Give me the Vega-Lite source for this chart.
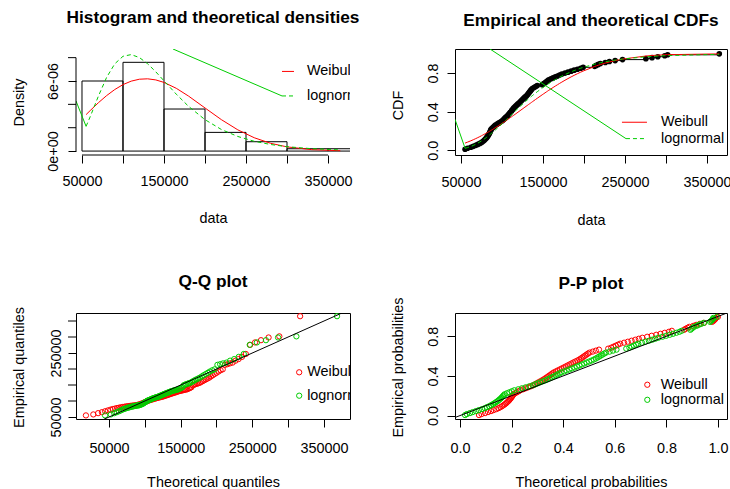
{
"$schema": "https://vega.github.io/schema/vega-lite/v6.json",
"autosize": {"type": "pad"},
"padding": {"left": 10, "top": 8, "right": 0, "bottom": 0},
"background": "white",
"config": {
  "font": "Liberation Sans",
  "view": {"stroke": null},
  "axis": {"grid": false, "domain": false, "tickColor": "black", "tickSize": 8, "tickWidth": 1, "labelColor": "black", "titleColor": "black", "labelFontSize": 14.4, "titleFontSize": 14.4, "titleFontWeight": "normal", "labelFont": "Liberation Sans", "titleFont": "Liberation Sans", "labelFlush": false, "labelOverlap": false, "labelBound": false},
  "title": {"fontSize": 17.3, "font": "Liberation Sans", "fontWeight": "bold", "color": "black", "anchor": "middle", "frame": "group"}
},
"datasets": {
  "s": [
    {"i":1,"v":55000,"e":0.01,"p":0.005,"qw":17800,"ql":44500,"fw":0.0737,"fl":0.0197},
    {"i":2,"v":58000,"e":0.02,"p":0.015,"qw":28100,"ql":52600,"fw":0.0835,"fl":0.0268},
    {"i":3,"v":62000,"e":0.03,"p":0.025,"qw":34800,"ql":57300,"fw":0.0973,"fl":0.0385},
    {"i":4,"v":65000,"e":0.04,"p":0.035,"qw":40100,"ql":60900,"fw":0.1085,"fl":0.0492},
    {"i":5,"v":68000,"e":0.05,"p":0.045,"qw":44600,"ql":63900,"fw":0.1201,"fl":0.0614},
    {"i":6,"v":70500,"e":0.06,"p":0.055,"qw":48500,"ql":66500,"fw":0.1304,"fl":0.0729},
    {"i":7,"v":73000,"e":0.07,"p":0.065,"qw":52100,"ql":68800,"fw":0.1410,"fl":0.0854},
    {"i":8,"v":75000,"e":0.08,"p":0.075,"qw":55400,"ql":70900,"fw":0.1498,"fl":0.0961},
    {"i":9,"v":76500,"e":0.09,"p":0.085,"qw":58500,"ql":72900,"fw":0.1566,"fl":0.1046},
    {"i":10,"v":78000,"e":0.10,"p":0.095,"qw":61400,"ql":74800,"fw":0.1634,"fl":0.1135},
    {"i":11,"v":79200,"e":0.11,"p":0.105,"qw":64100,"ql":76600,"fw":0.1691,"fl":0.1208},
    {"i":12,"v":80300,"e":0.12,"p":0.115,"qw":66700,"ql":78300,"fw":0.1742,"fl":0.1277},
    {"i":13,"v":81300,"e":0.13,"p":0.125,"qw":69200,"ql":79900,"fw":0.1791,"fl":0.1341},
    {"i":14,"v":82100,"e":0.14,"p":0.135,"qw":71600,"ql":81400,"fw":0.1829,"fl":0.1394},
    {"i":15,"v":83000,"e":0.15,"p":0.145,"qw":73900,"ql":83000,"fw":0.1873,"fl":0.1454},
    {"i":16,"v":83700,"e":0.16,"p":0.155,"qw":76200,"ql":84400,"fw":0.1908,"fl":0.1501},
    {"i":17,"v":84300,"e":0.17,"p":0.165,"qw":78300,"ql":85900,"fw":0.1937,"fl":0.1542},
    {"i":18,"v":85000,"e":0.18,"p":0.175,"qw":80500,"ql":87200,"fw":0.1972,"fl":0.1590},
    {"i":19,"v":85500,"e":0.19,"p":0.185,"qw":82500,"ql":88600,"fw":0.1997,"fl":0.1625},
    {"i":20,"v":86000,"e":0.20,"p":0.195,"qw":84600,"ql":90000,"fw":0.2023,"fl":0.1660},
    {"i":21,"v":86500,"e":0.21,"p":0.205,"qw":86500,"ql":91300,"fw":0.2048,"fl":0.1696},
    {"i":22,"v":87000,"e":0.22,"p":0.215,"qw":88500,"ql":92600,"fw":0.2074,"fl":0.1731},
    {"i":23,"v":88200,"e":0.23,"p":0.225,"qw":90400,"ql":93900,"fw":0.2136,"fl":0.1818},
    {"i":24,"v":89500,"e":0.24,"p":0.235,"qw":92300,"ql":95200,"fw":0.2205,"fl":0.1914},
    {"i":25,"v":90800,"e":0.25,"p":0.245,"qw":94100,"ql":96500,"fw":0.2273,"fl":0.2011},
    {"i":26,"v":92000,"e":0.26,"p":0.255,"qw":95900,"ql":97700,"fw":0.2337,"fl":0.2103},
    {"i":27,"v":94000,"e":0.27,"p":0.265,"qw":97700,"ql":98900,"fw":0.2444,"fl":0.2257},
    {"i":28,"v":95800,"e":0.28,"p":0.275,"qw":99500,"ql":100200,"fw":0.2543,"fl":0.2399},
    {"i":29,"v":97600,"e":0.29,"p":0.285,"qw":101300,"ql":101400,"fw":0.2644,"fl":0.2542},
    {"i":30,"v":99400,"e":0.30,"p":0.295,"qw":103000,"ql":102600,"fw":0.2745,"fl":0.2687},
    {"i":31,"v":101000,"e":0.31,"p":0.305,"qw":104700,"ql":103800,"fw":0.2836,"fl":0.2817},
    {"i":32,"v":102200,"e":0.32,"p":0.315,"qw":106400,"ql":105000,"fw":0.2905,"fl":0.2915},
    {"i":33,"v":103300,"e":0.33,"p":0.325,"qw":108100,"ql":106300,"fw":0.2969,"fl":0.3006},
    {"i":34,"v":104500,"e":0.34,"p":0.335,"qw":109800,"ql":107500,"fw":0.3039,"fl":0.3104},
    {"i":35,"v":105700,"e":0.35,"p":0.345,"qw":111400,"ql":108700,"fw":0.3109,"fl":0.3203},
    {"i":36,"v":106900,"e":0.36,"p":0.355,"qw":113100,"ql":109900,"fw":0.3180,"fl":0.3302},
    {"i":37,"v":108000,"e":0.37,"p":0.365,"qw":114800,"ql":111100,"fw":0.3245,"fl":0.3393},
    {"i":38,"v":109000,"e":0.38,"p":0.375,"qw":116400,"ql":112300,"fw":0.3304,"fl":0.3476},
    {"i":39,"v":110000,"e":0.39,"p":0.385,"qw":118000,"ql":113600,"fw":0.3363,"fl":0.3558},
    {"i":40,"v":110900,"e":0.40,"p":0.395,"qw":119700,"ql":114800,"fw":0.3418,"fl":0.3633},
    {"i":41,"v":111800,"e":0.41,"p":0.405,"qw":121300,"ql":116000,"fw":0.3472,"fl":0.3707},
    {"i":42,"v":112700,"e":0.42,"p":0.415,"qw":122900,"ql":117200,"fw":0.3527,"fl":0.3781},
    {"i":43,"v":113600,"e":0.43,"p":0.425,"qw":124500,"ql":118500,"fw":0.3581,"fl":0.3855},
    {"i":44,"v":114500,"e":0.44,"p":0.435,"qw":126100,"ql":119700,"fw":0.3635,"fl":0.3928},
    {"i":45,"v":115800,"e":0.45,"p":0.445,"qw":127700,"ql":121000,"fw":0.3714,"fl":0.4035},
    {"i":46,"v":117000,"e":0.46,"p":0.455,"qw":129400,"ql":122200,"fw":0.3787,"fl":0.4133},
    {"i":47,"v":118300,"e":0.47,"p":0.465,"qw":131000,"ql":123500,"fw":0.3868,"fl":0.4238},
    {"i":48,"v":119500,"e":0.48,"p":0.475,"qw":132600,"ql":124700,"fw":0.3941,"fl":0.4335},
    {"i":49,"v":120800,"e":0.49,"p":0.485,"qw":134200,"ql":126000,"fw":0.4021,"fl":0.4439},
    {"i":50,"v":122000,"e":0.50,"p":0.495,"qw":135800,"ql":127300,"fw":0.4096,"fl":0.4534},
    {"i":51,"v":123200,"e":0.51,"p":0.505,"qw":137500,"ql":128700,"fw":0.4169,"fl":0.4628},
    {"i":52,"v":124400,"e":0.52,"p":0.515,"qw":139100,"ql":130000,"fw":0.4243,"fl":0.4722},
    {"i":53,"v":125600,"e":0.53,"p":0.525,"qw":140700,"ql":131400,"fw":0.4317,"fl":0.4815},
    {"i":54,"v":126800,"e":0.54,"p":0.535,"qw":142400,"ql":132700,"fw":0.4392,"fl":0.4907},
    {"i":55,"v":128000,"e":0.55,"p":0.545,"qw":144100,"ql":134100,"fw":0.4467,"fl":0.5004},
    {"i":56,"v":129300,"e":0.56,"p":0.555,"qw":145700,"ql":135400,"fw":0.4547,"fl":0.5099},
    {"i":57,"v":130500,"e":0.57,"p":0.565,"qw":147400,"ql":136900,"fw":0.4621,"fl":0.5188},
    {"i":58,"v":131500,"e":0.58,"p":0.575,"qw":149100,"ql":138300,"fw":0.4682,"fl":0.5262},
    {"i":59,"v":132400,"e":0.59,"p":0.585,"qw":150800,"ql":139800,"fw":0.4739,"fl":0.5329},
    {"i":60,"v":133300,"e":0.60,"p":0.595,"qw":152500,"ql":141200,"fw":0.4794,"fl":0.5394},
    {"i":61,"v":134200,"e":0.61,"p":0.605,"qw":154200,"ql":142700,"fw":0.4849,"fl":0.5459},
    {"i":62,"v":135100,"e":0.62,"p":0.615,"qw":156000,"ql":144200,"fw":0.4904,"fl":0.5524},
    {"i":63,"v":136000,"e":0.63,"p":0.625,"qw":157700,"ql":145900,"fw":0.4960,"fl":0.5588},
    {"i":64,"v":137000,"e":0.64,"p":0.635,"qw":159500,"ql":147500,"fw":0.5021,"fl":0.5658},
    {"i":65,"v":139000,"e":0.65,"p":0.645,"qw":161300,"ql":149100,"fw":0.5144,"fl":0.5797},
    {"i":66,"v":141000,"e":0.66,"p":0.655,"qw":163200,"ql":150700,"fw":0.5265,"fl":0.5932},
    {"i":67,"v":143000,"e":0.67,"p":0.665,"qw":165000,"ql":152400,"fw":0.5387,"fl":0.6065},
    {"i":68,"v":149000,"e":0.68,"p":0.675,"qw":166900,"ql":154100,"fw":0.5745,"fl":0.6445},
    {"i":69,"v":151000,"e":0.69,"p":0.685,"qw":168800,"ql":156000,"fw":0.5863,"fl":0.6566},
    {"i":70,"v":152500,"e":0.70,"p":0.695,"qw":170700,"ql":157800,"fw":0.5950,"fl":0.6654},
    {"i":71,"v":154000,"e":0.71,"p":0.705,"qw":172700,"ql":159700,"fw":0.6037,"fl":0.6740},
    {"i":72,"v":155500,"e":0.72,"p":0.715,"qw":174700,"ql":161600,"fw":0.6123,"fl":0.6825},
    {"i":73,"v":157000,"e":0.73,"p":0.725,"qw":176700,"ql":163500,"fw":0.6208,"fl":0.6908},
    {"i":74,"v":159700,"e":0.74,"p":0.735,"qw":178800,"ql":165700,"fw":0.6360,"fl":0.7053},
    {"i":75,"v":162300,"e":0.75,"p":0.745,"qw":180900,"ql":167700,"fw":0.6504,"fl":0.7188},
    {"i":76,"v":165000,"e":0.76,"p":0.755,"qw":183100,"ql":169800,"fw":0.6651,"fl":0.7322},
    {"i":77,"v":167700,"e":0.77,"p":0.765,"qw":185300,"ql":172100,"fw":0.6794,"fl":0.7451},
    {"i":78,"v":170300,"e":0.78,"p":0.775,"qw":187600,"ql":174500,"fw":0.6930,"fl":0.7569},
    {"i":79,"v":173000,"e":0.79,"p":0.785,"qw":189900,"ql":176900,"fw":0.7067,"fl":0.7688},
    {"i":80,"v":176800,"e":0.80,"p":0.795,"qw":192300,"ql":179500,"fw":0.7255,"fl":0.7846},
    {"i":81,"v":180500,"e":0.81,"p":0.805,"qw":194800,"ql":182000,"fw":0.7431,"fl":0.7991},
    {"i":82,"v":184300,"e":0.82,"p":0.815,"qw":197400,"ql":184900,"fw":0.7606,"fl":0.8130},
    {"i":83,"v":188000,"e":0.83,"p":0.825,"qw":200000,"ql":187900,"fw":0.7769,"fl":0.8258},
    {"i":84,"v":192000,"e":0.84,"p":0.835,"qw":202800,"ql":190700,"fw":0.7937,"fl":0.8386},
    {"i":85,"v":196000,"e":0.85,"p":0.845,"qw":205700,"ql":194100,"fw":0.8097,"fl":0.8506},
    {"i":86,"v":199000,"e":0.86,"p":0.855,"qw":208700,"ql":197400,"fw":0.8211,"fl":0.8591},
    {"i":87,"v":213000,"e":0.87,"p":0.865,"qw":211800,"ql":201300,"fw":0.8685,"fl":0.8929},
    {"i":88,"v":215000,"e":0.88,"p":0.875,"qw":215200,"ql":205100,"fw":0.8745,"fl":0.8970},
    {"i":89,"v":217500,"e":0.89,"p":0.885,"qw":218700,"ql":209200,"fw":0.8817,"fl":0.9020},
    {"i":90,"v":220000,"e":0.90,"p":0.895,"qw":222500,"ql":213900,"fw":0.8886,"fl":0.9068},
    {"i":91,"v":226000,"e":0.91,"p":0.905,"qw":226500,"ql":219000,"fw":0.9039,"fl":0.9172},
    {"i":92,"v":231000,"e":0.92,"p":0.915,"qw":230800,"ql":224700,"fw":0.9154,"fl":0.9251},
    {"i":93,"v":238000,"e":0.93,"p":0.925,"qw":235600,"ql":231100,"fw":0.9297,"fl":0.9348},
    {"i":94,"v":247000,"e":0.94,"p":0.935,"qw":240900,"ql":238100,"fw":0.9452,"fl":0.9456},
    {"i":95,"v":275500,"e":0.95,"p":0.945,"qw":246900,"ql":246400,"fw":0.9772,"fl":0.9692},
    {"i":96,"v":283000,"e":0.96,"p":0.955,"qw":253800,"ql":256400,"fw":0.9823,"fl":0.9735},
    {"i":97,"v":290000,"e":0.97,"p":0.965,"qw":262100,"ql":269000,"fw":0.9862,"fl":0.9770},
    {"i":98,"v":298500,"e":0.98,"p":0.975,"qw":272700,"ql":285900,"fw":0.9899,"fl":0.9805},
    {"i":99,"v":302000,"e":0.99,"p":0.985,"qw":287700,"ql":311500,"fw":0.9911,"fl":0.9819},
    {"i":100,"v":365000,"e":1.00,"p":0.995,"qw":316700,"ql":368200,"fw":0.9994,"fl":0.9947}
  ],
  "bins": [
    {"x0":50000,"x1":100000,"d":6.0e-6},
    {"x0":100000,"x1":150000,"d":7.6e-6},
    {"x0":150000,"x1":200000,"d":3.6e-6},
    {"x0":200000,"x1":250000,"d":1.6e-6},
    {"x0":250000,"x1":300000,"d":0.8e-6},
    {"x0":300000,"x1":350000,"d":0.2e-6},
    {"x0":350000,"x1":400000,"d":0.2e-6}
  ],
  "dens": [
    {"x":55000,"w":3.122e-6,"l":2.118e-6},
    {"x":60000,"w":3.470e-6,"l":2.940e-6},
    {"x":70000,"w":4.138e-6,"l":4.704e-6},
    {"x":80000,"w":4.747e-6,"l":6.305e-6},
    {"x":90000,"w":5.270e-6,"l":7.475e-6},
    {"x":100000,"w":5.690e-6,"l":8.117e-6},
    {"x":110000,"w":5.987e-6,"l":8.261e-6},
    {"x":120000,"w":6.153e-6,"l":8.008e-6},
    {"x":130000,"w":6.187e-6,"l":7.478e-6},
    {"x":140000,"w":6.093e-6,"l":6.786e-6},
    {"x":150000,"w":5.879e-6,"l":6.018e-6},
    {"x":165000,"w":5.373e-6,"l":4.869e-6},
    {"x":180000,"w":4.706e-6,"l":3.827e-6},
    {"x":200000,"w":3.691e-6,"l":2.690e-6},
    {"x":220000,"w":2.689e-6,"l":1.847e-6},
    {"x":240000,"w":1.819e-6,"l":1.250e-6},
    {"x":260000,"w":1.143e-6,"l":0.839e-6},
    {"x":280000,"w":0.666e-6,"l":0.563e-6},
    {"x":300000,"w":0.359e-6,"l":0.375e-6},
    {"x":330000,"w":0.123e-6,"l":0.205e-6},
    {"x":365000,"w":0.028e-6,"l":0.102e-6}
  ]
},
"columns": 2,
"spacing": {"row": 158, "column": 105},
"bounds": "flush",
"concat": [
  {
    "width": 274, "height": 106,
    "title": {"text": "Histogram and theoretical densities", "offset": 23},
    "layer": [
      {"data": {"name": "bins"},
       "mark": {"type": "rect", "filled": false, "color": "black", "strokeWidth": 1, "clip": true},
       "encoding": {
         "x": {"field": "x0", "type": "quantitative", "scale": {"domain": [42700, 376800], "nice": false, "zero": false},
               "axis": {"title": "data", "values": [50000,100000,150000,200000,250000,300000,350000], "labelExpr": "datum.value % 100000 == 50000 ? '' + datum.value : ''", "labelOverlap": false, "labelPadding": 11, "titleX": 137, "titleY": 63, "titleBaseline": "middle", "titleAlign": "center"}},
         "x2": {"field": "x1"},
         "y": {"field": "d", "type": "quantitative", "scale": {"domain": [-3.36e-7, 8.74e-6], "nice": false, "zero": false},
               "axis": {"title": "Density", "values": [0, 6e-6], "labelExpr": "datum.value < 0.000001 ? '0e+00' : '6e-06'", "labelOverlap": false, "labelAngle": 270, "labelAlign": "center", "labelBaseline": "bottom", "labelPadding": 8, "titleX": -57, "titleY": 53, "titleAngle": 270, "titleBaseline": "middle", "titleAlign": "center"}},
         "y2": {"datum": 0}
       }},
      {"data": {"values": [{"t": 2e-6}, {"t": 4e-6}, {"t": 8e-6}]},
       "mark": {"type": "rule", "color": "black", "strokeWidth": 1, "x2Offset": -8},
       "encoding": {"y": {"field": "t", "type": "quantitative"}, "x": {"datum": 42700}, "x2": {"datum": 42700}}},
      {"data": {"name": "dens"},
       "mark": {"type": "line", "color": "#FF0000", "strokeWidth": 1, "clip": true},
       "encoding": {"x": {"field": "x", "type": "quantitative"}, "y": {"field": "w", "type": "quantitative"}}},
      {"data": {"name": "dens"},
       "mark": {"type": "line", "color": "#00CD00", "strokeWidth": 1, "strokeDash": [4, 3], "clip": true},
       "encoding": {"x": {"field": "x", "type": "quantitative"}, "y": {"field": "l", "type": "quantitative"}}},
      {"data": {"values": [{"g": "A", "x": 42700, "y": 4.29e-6}, {"g": "A", "x": 55000, "y": 2.118e-6}, {"g": "B", "x": 161000, "y": 8.74e-6}, {"g": "B", "x": 293900, "y": 4.72e-6}]},
       "mark": {"type": "line", "color": "#00CD00", "strokeWidth": 1, "clip": true},
       "encoding": {"x": {"field": "x", "type": "quantitative"}, "y": {"field": "y", "type": "quantitative"}, "detail": {"field": "g"}}},
      {"data": {"values": [{"xa": 293900, "xb": 308500, "ly": 6.82e-6}]},
       "mark": {"type": "rule", "stroke": "#FF0000", "strokeWidth": 1, "clip": true},
       "encoding": {"x": {"field": "xa", "type": "quantitative"}, "x2": {"field": "xb"}, "y": {"field": "ly", "type": "quantitative"}}},
      {"data": {"values": [{"xa": 293900, "xb": 308500, "ly": 4.72e-6}]},
       "mark": {"type": "rule", "stroke": "#00CD00", "strokeWidth": 1, "strokeDash": [4, 3], "clip": true},
       "encoding": {"x": {"field": "xa", "type": "quantitative"}, "x2": {"field": "xb"}, "y": {"field": "ly", "type": "quantitative"}}},
      {"data": {"values": [{"x": 324400, "y": 6.82e-6, "t": "Weibull"}, {"x": 324400, "y": 4.72e-6, "t": "lognormal"}]},
       "mark": {"type": "text", "align": "left", "baseline": "middle", "fontSize": 14.4, "color": "black", "clip": true},
       "encoding": {"x": {"field": "x", "type": "quantitative"}, "y": {"field": "y", "type": "quantitative"}, "text": {"field": "t"}}},
      {"data": {"values": [{"a": 50000, "b": 350000, "c": -3.36e-7}]},
       "mark": {"type": "rule", "color": "black", "strokeWidth": 1},
       "encoding": {"x": {"field": "a", "type": "quantitative"}, "x2": {"field": "b"}, "y": {"field": "c", "type": "quantitative"}}},
      {"data": {"values": [{"a": 0, "b": 8e-6, "c": 42700}]},
       "mark": {"type": "rule", "color": "black", "strokeWidth": 1},
       "encoding": {"y": {"field": "a", "type": "quantitative"}, "y2": {"field": "b"}, "x": {"field": "c", "type": "quantitative"}}}
    ]
  },
  {
    "width": 272, "height": 106,
    "view": {"stroke": "black", "strokeWidth": 1},
    "title": {"text": "Empirical and theoretical CDFs", "offset": 20},
    "layer": [
      {"data": {"name": "s"},
       "mark": {"type": "line", "interpolate": "step-after", "color": "black", "strokeWidth": 1, "clip": true},
       "encoding": {
         "x": {"field": "v", "type": "quantitative", "scale": {"domain": [42700, 374400], "nice": false, "zero": false},
               "axis": {"title": "data", "values": [50000,100000,150000,200000,250000,300000,350000], "labelExpr": "datum.value % 100000 == 50000 ? '' + datum.value : ''", "labelOverlap": false, "labelPadding": 12, "titleX": 136, "titleY": 65, "titleBaseline": "middle", "titleAlign": "center"}},
         "y": {"field": "e", "type": "quantitative", "scale": {"domain": [-0.05, 1.05], "nice": false, "zero": false},
               "axis": {"title": "CDF", "values": [0, 0.2, 0.4, 0.6, 0.8, 1], "labelExpr": "round(datum.value*10) % 4 == 0 ? format(datum.value, '.1f') : ''", "labelOverlap": false, "labelAngle": 270, "labelAlign": "center", "labelBaseline": "bottom", "labelPadding": 7, "titleX": -57, "titleY": 56, "titleAngle": 270, "titleBaseline": "middle", "titleAlign": "center"}}
       }},
      {"data": {"name": "s"},
       "mark": {"type": "circle", "color": "black", "size": 32, "opacity": 1, "clip": true},
       "encoding": {"x": {"field": "v", "type": "quantitative"}, "y": {"field": "e", "type": "quantitative"}}},
      {"data": {"name": "s"},
       "mark": {"type": "line", "color": "#FF0000", "strokeWidth": 1, "clip": true},
       "encoding": {"x": {"field": "v", "type": "quantitative"}, "y": {"field": "fw", "type": "quantitative"}}},
      {"data": {"name": "s"},
       "mark": {"type": "line", "color": "#00CD00", "strokeWidth": 1, "strokeDash": [4, 3], "clip": true},
       "encoding": {"x": {"field": "v", "type": "quantitative"}, "y": {"field": "fl", "type": "quantitative"}}},
      {"data": {"values": [{"g": "A", "x": 42700, "y": 0.32}, {"g": "A", "x": 55000, "y": 0.0197}, {"g": "B", "x": 85400, "y": 1.05}, {"g": "B", "x": 251200, "y": 0.12}]},
       "mark": {"type": "line", "color": "#00CD00", "strokeWidth": 1, "clip": true},
       "encoding": {"x": {"field": "x", "type": "quantitative"}, "y": {"field": "y", "type": "quantitative"}, "detail": {"field": "g"}}},
      {"data": {"values": [{"xa": 246300, "xb": 276800, "ly": 0.29}]},
       "mark": {"type": "rule", "stroke": "#FF0000", "strokeWidth": 1, "clip": true},
       "encoding": {"x": {"field": "xa", "type": "quantitative"}, "x2": {"field": "xb"}, "y": {"field": "ly", "type": "quantitative"}}},
      {"data": {"values": [{"xa": 251200, "xb": 276800, "ly": 0.12}]},
       "mark": {"type": "rule", "stroke": "#00CD00", "strokeWidth": 1, "strokeDash": [4, 3], "clip": true},
       "encoding": {"x": {"field": "xa", "type": "quantitative"}, "x2": {"field": "xb"}, "y": {"field": "ly", "type": "quantitative"}}},
      {"data": {"values": [{"x": 293900, "y": 0.29, "t": "Weibull"}, {"x": 293900, "y": 0.12, "t": "lognormal"}]},
       "mark": {"type": "text", "align": "left", "baseline": "middle", "fontSize": 14.4, "color": "black", "clip": true},
       "encoding": {"x": {"field": "x", "type": "quantitative"}, "y": {"field": "y", "type": "quantitative"}, "text": {"field": "t"}}}
    ]
  },
  {
    "width": 274, "height": 106,
    "view": {"stroke": "black", "strokeWidth": 1},
    "title": {"text": "Q-Q plot", "offset": 16},
    "layer": [
      {"data": {"name": "s"},
       "mark": {"type": "point", "shape": "circle", "filled": false, "color": "#FF0000", "size": 28, "strokeWidth": 1, "opacity": 1, "clip": true},
       "encoding": {
         "x": {"field": "qw", "type": "quantitative", "scale": {"domain": [3950, 386300], "nice": false, "zero": false},
               "axis": {"title": "Theoretical quantiles", "values": [50000,100000,150000,200000,250000,300000,350000], "labelExpr": "datum.value % 100000 == 50000 ? '' + datum.value : ''", "labelOverlap": false, "labelPadding": 14, "titleX": 137, "titleY": 63, "titleBaseline": "middle", "titleAlign": "center"}},
         "y": {"field": "v", "type": "quantitative", "scale": {"domain": [43750, 375000], "nice": false, "zero": false},
               "axis": {"title": "Empirical quantiles", "values": [50000, 250000], "labelExpr": "'' + datum.value", "labelOverlap": false, "labelAngle": 270, "labelAlign": "center", "labelBaseline": "bottom", "labelPadding": 5, "titleX": -57, "titleY": 54, "titleAngle": 270, "titleBaseline": "middle", "titleAlign": "center"}}
       }},
      {"data": {"values": [{"t": 100000}, {"t": 150000}, {"t": 200000}, {"t": 300000}, {"t": 350000}]},
       "mark": {"type": "rule", "color": "black", "strokeWidth": 1, "x2Offset": -8},
       "encoding": {"y": {"field": "t", "type": "quantitative"}, "x": {"datum": 3950}, "x2": {"datum": 3950}}},
      {"data": {"name": "s"},
       "mark": {"type": "point", "shape": "circle", "filled": false, "color": "#00CD00", "size": 28, "strokeWidth": 1, "opacity": 1, "clip": true},
       "encoding": {"x": {"field": "ql", "type": "quantitative"}, "y": {"field": "v", "type": "quantitative"}}},
      {"data": {"values": [{"a": 0}, {"a": 400000}]},
       "mark": {"type": "line", "color": "black", "strokeWidth": 1, "clip": true},
       "encoding": {"x": {"field": "a", "type": "quantitative"}, "y": {"field": "a", "type": "quantitative"}}},
      {"data": {"values": [{"x": 315400, "y": 189700}]},
       "mark": {"type": "point", "shape": "circle", "filled": false, "color": "#FF0000", "size": 28, "strokeWidth": 1, "opacity": 1, "clip": true},
       "encoding": {"x": {"field": "x", "type": "quantitative"}, "y": {"field": "y", "type": "quantitative"}}},
      {"data": {"values": [{"x": 315400, "y": 116600}]},
       "mark": {"type": "point", "shape": "circle", "filled": false, "color": "#00CD00", "size": 28, "strokeWidth": 1, "opacity": 1, "clip": true},
       "encoding": {"x": {"field": "x", "type": "quantitative"}, "y": {"field": "y", "type": "quantitative"}}},
      {"data": {"values": [{"x": 326500, "y": 189700, "t": "Weibull"}, {"x": 326500, "y": 116600, "t": "lognormal"}]},
       "mark": {"type": "text", "align": "left", "baseline": "middle", "fontSize": 14.4, "color": "black", "clip": true},
       "encoding": {"x": {"field": "x", "type": "quantitative"}, "y": {"field": "y", "type": "quantitative"}, "text": {"field": "t"}}}
    ]
  },
  {
    "width": 272, "height": 106,
    "view": {"stroke": "black", "strokeWidth": 1},
    "title": {"text": "P-P plot", "offset": 5},
    "layer": [
      {"data": {"name": "s"},
       "mark": {"type": "point", "shape": "circle", "filled": false, "color": "#FF0000", "size": 28, "strokeWidth": 1, "opacity": 1, "clip": true},
       "encoding": {
         "x": {"field": "fw", "type": "quantitative", "scale": {"domain": [-0.0194, 1.0349], "nice": false, "zero": false},
               "axis": {"title": "Theoretical probabilities", "values": [0, 0.2, 0.4, 0.6, 0.8, 1], "format": ".1f", "labelOverlap": false, "labelPadding": 14, "titleX": 136, "titleY": 63, "titleBaseline": "middle", "titleAlign": "center"}},
         "y": {"field": "p", "type": "quantitative", "scale": {"domain": [-0.0346, 1.0346], "nice": false, "zero": false},
               "axis": {"title": "Empirical probabilities", "values": [0, 0.2, 0.4, 0.6, 0.8, 1], "labelExpr": "round(datum.value*10) % 4 == 0 ? format(datum.value, '.1f') : ''", "labelOverlap": false, "labelAngle": 270, "labelAlign": "center", "labelBaseline": "bottom", "labelPadding": 7, "titleX": -57, "titleY": 54, "titleAngle": 270, "titleBaseline": "middle", "titleAlign": "center"}}
       }},
      {"data": {"name": "s"},
       "mark": {"type": "point", "shape": "circle", "filled": false, "color": "#00CD00", "size": 28, "strokeWidth": 1, "opacity": 1, "clip": true},
       "encoding": {"x": {"field": "fl", "type": "quantitative"}, "y": {"field": "p", "type": "quantitative"}}},
      {"data": {"values": [{"a": -0.1}, {"a": 1.1}]},
       "mark": {"type": "line", "color": "black", "strokeWidth": 1, "clip": true},
       "encoding": {"x": {"field": "a", "type": "quantitative"}, "y": {"field": "a", "type": "quantitative"}}},
      {"data": {"values": [{"x": 0.726, "y": 0.311}]},
       "mark": {"type": "point", "shape": "circle", "filled": false, "color": "#FF0000", "size": 28, "strokeWidth": 1, "opacity": 1, "clip": true},
       "encoding": {"x": {"field": "x", "type": "quantitative"}, "y": {"field": "y", "type": "quantitative"}}},
      {"data": {"values": [{"x": 0.726, "y": 0.159}]},
       "mark": {"type": "point", "shape": "circle", "filled": false, "color": "#00CD00", "size": 28, "strokeWidth": 1, "opacity": 1, "clip": true},
       "encoding": {"x": {"field": "x", "type": "quantitative"}, "y": {"field": "y", "type": "quantitative"}}},
      {"data": {"values": [{"x": 0.778, "y": 0.311, "t": "Weibull"}, {"x": 0.778, "y": 0.159, "t": "lognormal"}]},
       "mark": {"type": "text", "align": "left", "baseline": "middle", "fontSize": 14.4, "color": "black", "clip": true},
       "encoding": {"x": {"field": "x", "type": "quantitative"}, "y": {"field": "y", "type": "quantitative"}, "text": {"field": "t"}}}
    ]
  }
]
}
